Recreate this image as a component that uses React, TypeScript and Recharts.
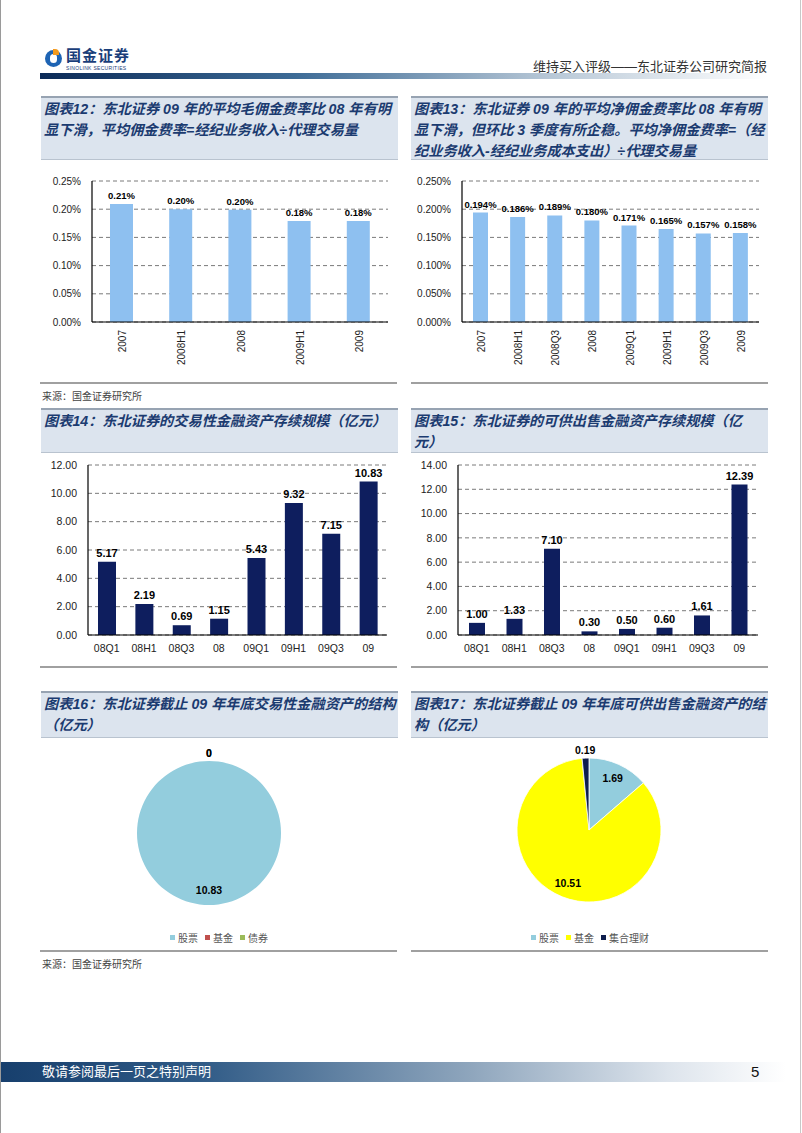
import React from "react";
import { BarChart, Bar, XAxis, YAxis, CartesianGrid, LabelList, PieChart, Pie, Cell, Legend } from "recharts";

// 图表12 平均毛佣金费率 (%)
const grossCats = ["2007", "2008H1", "2008", "2009H1", "2009"];
const grossRate = [0.209, 0.2, 0.199, 0.179, 0.179];
const grossTicks = [0, 0.05, 0.1, 0.15, 0.2, 0.25];

// 图表13 平均净佣金费率 (%)
const netCats = ["2007", "2008H1", "2008Q3", "2008", "2009Q1", "2009H1", "2009Q3", "2009"];
const netRate = [0.194, 0.186, 0.189, 0.18, 0.171, 0.165, 0.157, 0.158];
const netTicks = [0, 0.05, 0.1, 0.15, 0.2, 0.25];

// 图表14 / 15 存续规模 (亿元)
const periodCats = ["08Q1", "08H1", "08Q3", "08", "09Q1", "09H1", "09Q3", "09"];
const tradingAssets = [5.17, 2.19, 0.69, 1.15, 5.43, 9.32, 7.15, 10.83];
const tradingTicks = [0, 2, 4, 6, 8, 10, 12];
const afsAssets = [1.0, 1.33, 7.1, 0.3, 0.5, 0.6, 1.61, 12.39];
const afsTicks = [0, 2, 4, 6, 8, 10, 12, 14];

// 图表16 / 17 结构 (亿元)
const tradingMixNames = ["股票", "基金", "债券"];
const tradingMixValues = [10.83, 0, 0];
const afsMixNames = ["股票", "基金", "集合理财"];
const afsMixValues = [1.69, 10.51, 0.19];

const tradingMixColors = ["#93CDDD", "#C0504D", "#9BBB59"];
const afsMixColors = ["#93CDDD", "#FFFF00", "#0E1E4E"];

const NUM_FONT = "'Liberation Sans', Arial, 'Noto Sans CJK SC', sans-serif";
const CJK_FONT = "'Liberation Sans', 'Noto Sans CJK SC', sans-serif";
const TITLE_COLOR = "#1B3B70";
const RAD = Math.PI / 180;

type BarPanelProps = {
  cats: string[];
  values: number[];
  ticks: number[];
  digits: number;
  pct?: boolean;
  color: string;
  barSize: number;
  width: number;
  height: number;
  yWidth: number;
  top: number;
  right: number;
  xHeight: number;
  rotate?: boolean;
  labelSize: number;
  tickSize: number;
};

const BarPanel = (p: BarPanelProps) => {
  const data = p.cats.map((name, i) => ({ name, v: p.values[i] }));
  const edges = [...p.cats.map((_, i) => i), p.cats.length];
  const fmt = (v: number) => v.toFixed(p.digits) + (p.pct ? "%" : "");

  const renderTick = (props: any) => {
    const { x, y, payload } = props;
    if (p.rotate) {
      const ty = y + 6;
      return (
        <text
          x={x + 1}
          y={ty}
          transform={`rotate(-90 ${x + 1} ${ty})`}
          textAnchor="end"
          dominantBaseline="central"
          fontSize={10}
          fontFamily={NUM_FONT}
          fill="#222"
        >
          {payload.value}
        </text>
      );
    }
    return (
      <text x={x} y={y + 15} textAnchor="middle" fontSize={p.tickSize} fontFamily={NUM_FONT} fill="#222">
        {payload.value}
      </text>
    );
  };

  return (
    <BarChart
      width={p.width}
      height={p.height}
      data={data}
      margin={{ top: p.top, right: p.right, bottom: 0, left: 0 }}
      barCategoryGap={0}
    >
      <CartesianGrid xAxisId="cat" vertical={false} stroke="#7a7a7a" strokeDasharray="4 3" />
      <XAxis
        xAxisId="edge"
        type="number"
        domain={[0, p.cats.length]}
        ticks={edges}
        tick={false}
        axisLine={false}
        tickLine={{ stroke: "#000" }}
        tickSize={4}
        height={1}
      />
      <XAxis
        xAxisId="cat"
        dataKey="name"
        interval={0}
        axisLine={{ stroke: "#000", strokeWidth: 1.2 }}
        tickLine={false}
        tickSize={0}
        tick={renderTick}
        height={p.xHeight}
      />
      <YAxis
        domain={[p.ticks[0], p.ticks[p.ticks.length - 1]]}
        ticks={p.ticks}
        width={p.yWidth}
        axisLine={{ stroke: "#000", strokeWidth: 1.2 }}
        tickLine={false}
        tickMargin={5}
        tickFormatter={(v: number) => fmt(v)}
        tick={{ fontSize: p.tickSize, fontFamily: NUM_FONT, fill: "#222" }}
      />
      <Bar xAxisId="cat" dataKey="v" fill={p.color} barSize={p.barSize} isAnimationActive={false}>
        <LabelList
          dataKey="v"
          position="top"
          offset={5}
          formatter={(v: any) => fmt(Number(v))}
          style={{ fontSize: p.labelSize, fontWeight: 700, fontFamily: NUM_FONT, fill: "#000" }}
        />
      </Bar>
    </BarChart>
  );
};

type PiePanelProps = {
  names: string[];
  values: number[];
  colors: string[];
  cx: number;
  cy: number;
  stroke: string;
};

const pieLabel = (props: any) => {
  const { cx, cy, midAngle, outerRadius, value, percent } = props;
  const r = percent < 0.05 ? outerRadius + 8 : outerRadius * 0.79;
  const x = cx + r * Math.cos(-midAngle * RAD);
  const y = cy + r * Math.sin(-midAngle * RAD);
  return (
    <text
      x={x}
      y={y}
      textAnchor="middle"
      dominantBaseline="central"
      fontSize={10.5}
      fontWeight={700}
      fontFamily={NUM_FONT}
      fill="#000"
    >
      {value === 0 ? "0" : Number(value).toFixed(2)}
    </text>
  );
};

const PiePanel = (p: PiePanelProps) => {
  const data = p.names.map((name, i) => ({ name, value: p.values[i] }));
  const renderLegend = () => (
    <div style={{ display: "flex", justifyContent: "center", gap: 7, fontSize: 10, color: "#555", fontFamily: CJK_FONT }}>
      {p.names.map((n, i) => (
        <span key={n} style={{ display: "flex", alignItems: "center" }}>
          <span style={{ width: 5, height: 5, background: p.colors[i], marginRight: 3, display: "inline-block" }} />
          {n}
        </span>
      ))}
    </div>
  );
  return (
    <PieChart width={358} height={212} margin={{ top: 0, right: 0, bottom: 0, left: 0 }}>
      <Pie
        data={data}
        dataKey="value"
        nameKey="name"
        cx={p.cx}
        cy={p.cy}
        outerRadius={72}
        startAngle={90}
        endAngle={-270}
        stroke={p.stroke}
        strokeWidth={0.8}
        label={pieLabel}
        labelLine={false}
        isAnimationActive={false}
      >
        {data.map((d, i) => (
          <Cell key={d.name} fill={p.colors[i]} />
        ))}
      </Pie>
      <Legend content={renderLegend} wrapperStyle={{ left: 0, top: 190, width: 358 }} />
    </PieChart>
  );
};

const TitleBox = ({ left, top, height, lines }: { left: number; top: number; height: number; lines: string[] }) => (
  <div
    style={{
      position: "absolute",
      left,
      top,
      width: 357,
      height,
      background: "#DCE4EE",
      borderTop: "2px solid #97A3B2",
      borderBottom: "1px solid #B9C3CF",
      boxSizing: "border-box",
      padding: "1px 0 0 3px",
      color: TITLE_COLOR,
      fontFamily: CJK_FONT,
      fontWeight: 700,
      fontStyle: "italic",
      fontSize: 14.2,
      lineHeight: "21px",
      whiteSpace: "nowrap",
    }}
  >
    {lines.map((l) => (
      <div key={l}>{l}</div>
    ))}
  </div>
);

const Rule = ({ left, top }: { left: number; top: number }) => (
  <div style={{ position: "absolute", left, top, width: 357, height: 2, background: "#A0A0A0" }} />
);

const Source = ({ top }: { top: number }) => (
  <div style={{ position: "absolute", left: 42, top, fontSize: 10, color: "#444", fontFamily: CJK_FONT }}>
    来源：国金证券研究所
  </div>
);

const Abs = ({ left, top, children }: { left: number; top: number; children: React.ReactNode }) => (
  <div style={{ position: "absolute", left, top }}>{children}</div>
);

export default function App() {
  return (
    <div
      style={{
        position: "absolute",
        left: 0,
        top: 0,
        width: 802,
        height: 1133,
        background: "#fff",
        overflow: "hidden",
        fontFamily: CJK_FONT,
      }}
    >
      <div style={{ position: "absolute", left: 0, top: 0, width: 1, height: 1133, background: "#9a9a9a" }} />
      <div style={{ position: "absolute", right: 1, top: 0, width: 1, height: 1133, background: "#c8c8c8" }} />

      {/* header */}
      <div style={{ position: "absolute", left: 45, top: 50, width: 17, height: 17, borderRadius: 9, background: "#1E64B4" }} />
      <div style={{ position: "absolute", left: 50, top: 54, width: 7, height: 9, borderRadius: 4, background: "#fff" }} />
      <div style={{ position: "absolute", left: 53, top: 49, width: 6, height: 6, background: "#F39A1E", borderRadius: "0 4px 0 0" }} />
      <div style={{ position: "absolute", left: 66, top: 47, fontSize: 15, lineHeight: "17px", fontWeight: 700, color: "#1A3E7A", letterSpacing: 1 }}>
        国金证券
      </div>
      <div style={{ position: "absolute", left: 66, top: 65, fontSize: 5, lineHeight: "6px", color: "#1A3E7A", fontFamily: NUM_FONT, letterSpacing: 0.3 }}>
        SINOLINK SECURITIES
      </div>
      <div style={{ position: "absolute", right: 35, top: 56, fontSize: 13, color: "#333" }}>维持买入评级——东北证券公司研究简报</div>
      <div
        style={{
          position: "absolute",
          left: 40,
          top: 73,
          width: 727,
          height: 6,
          background: "linear-gradient(to right, #0B2A57 0%, #3D6B96 35%, #B7C7D6 70%, #ffffff 100%)",
        }}
      />

      {/* row 1 */}
      <TitleBox left={41} top={96} height={64} lines={["图表12：东北证券 09 年的平均毛佣金费率比 08 年有明", "显下滑，平均佣金费率=经纪业务收入÷代理交易量"]} />
      <TitleBox
        left={411}
        top={96}
        height={64}
        lines={["图表13：东北证券 09 年的平均净佣金费率比 08 年有明", "显下滑，但环比 3 季度有所企稳。平均净佣金费率=（经", "纪业务收入-经纪业务成本支出）÷代理交易量"]}
      />
      <Abs left={40} top={170}>
        <BarPanel
          cats={grossCats}
          values={grossRate}
          ticks={grossTicks}
          digits={2}
          pct
          color="#8EC0F0"
          barSize={23}
          width={358}
          height={206}
          yWidth={52}
          top={11}
          right={10}
          xHeight={53}
          rotate
          labelSize={9.5}
          tickSize={10}
        />
      </Abs>
      <Abs left={411} top={170}>
        <BarPanel
          cats={netCats}
          values={netRate}
          ticks={netTicks}
          digits={3}
          pct
          color="#8EC0F0"
          barSize={15}
          width={357}
          height={206}
          yWidth={51}
          top={11}
          right={9}
          xHeight={53}
          rotate
          labelSize={9.5}
          tickSize={10}
        />
      </Abs>
      <Rule left={40} top={382} />
      <Rule left={411} top={382} />
      <Source top={388} />

      {/* row 2 */}
      <TitleBox left={41} top={408} height={45} lines={["图表14：东北证券的交易性金融资产存续规模（亿元）"]} />
      <TitleBox left={411} top={408} height={45} lines={["图表15：东北证券的可供出售金融资产存续规模（亿", "元）"]} />
      <Abs left={40} top={455}>
        <BarPanel
          cats={periodCats}
          values={tradingAssets}
          ticks={tradingTicks}
          digits={2}
          color="#0E1E5E"
          barSize={18}
          width={358}
          height={210}
          yWidth={48}
          top={10}
          right={11}
          xHeight={29}
          labelSize={11}
          tickSize={10.5}
        />
      </Abs>
      <Abs left={411} top={455}>
        <BarPanel
          cats={periodCats}
          values={afsAssets}
          ticks={afsTicks}
          digits={2}
          color="#0E1E5E"
          barSize={16}
          width={357}
          height={210}
          yWidth={47}
          top={10}
          right={10}
          xHeight={29}
          labelSize={11}
          tickSize={10.5}
        />
      </Abs>
      <Rule left={40} top={666} />
      <Rule left={411} top={666} />

      {/* row 3 */}
      <TitleBox left={41} top={691} height={47} lines={["图表16：东北证券截止 09 年年底交易性金融资产的结构", "（亿元）"]} />
      <TitleBox left={411} top={691} height={47} lines={["图表17：东北证券截止 09 年年底可供出售金融资产的结", "构（亿元）"]} />
      <Abs left={40} top={740}>
        <PiePanel names={tradingMixNames} values={tradingMixValues} colors={tradingMixColors} cx={169} cy={93} stroke="none" />
      </Abs>
      <Abs left={411} top={740}>
        <PiePanel names={afsMixNames} values={afsMixValues} colors={afsMixColors} cx={178} cy={90} stroke="#fff" />
      </Abs>
      <Rule left={40} top={950} />
      <Rule left={411} top={950} />
      <Source top={956} />

      {/* footer */}
      <div
        style={{
          position: "absolute",
          left: 1,
          top: 1062,
          width: 785,
          height: 20,
          background: "linear-gradient(to right, #173F6D 0%, #2F5A86 25%, #8FA6BD 60%, #DDE4EC 85%, #ffffff 100%)",
        }}
      />
      <div style={{ position: "absolute", left: 42, top: 1063, fontSize: 13, color: "#fff", lineHeight: "18px" }}>敬请参阅最后一页之特别声明</div>
      <div style={{ position: "absolute", left: 751, top: 1062, fontSize: 15, color: "#111", fontFamily: NUM_FONT, lineHeight: "20px" }}>5</div>
    </div>
  );
}
